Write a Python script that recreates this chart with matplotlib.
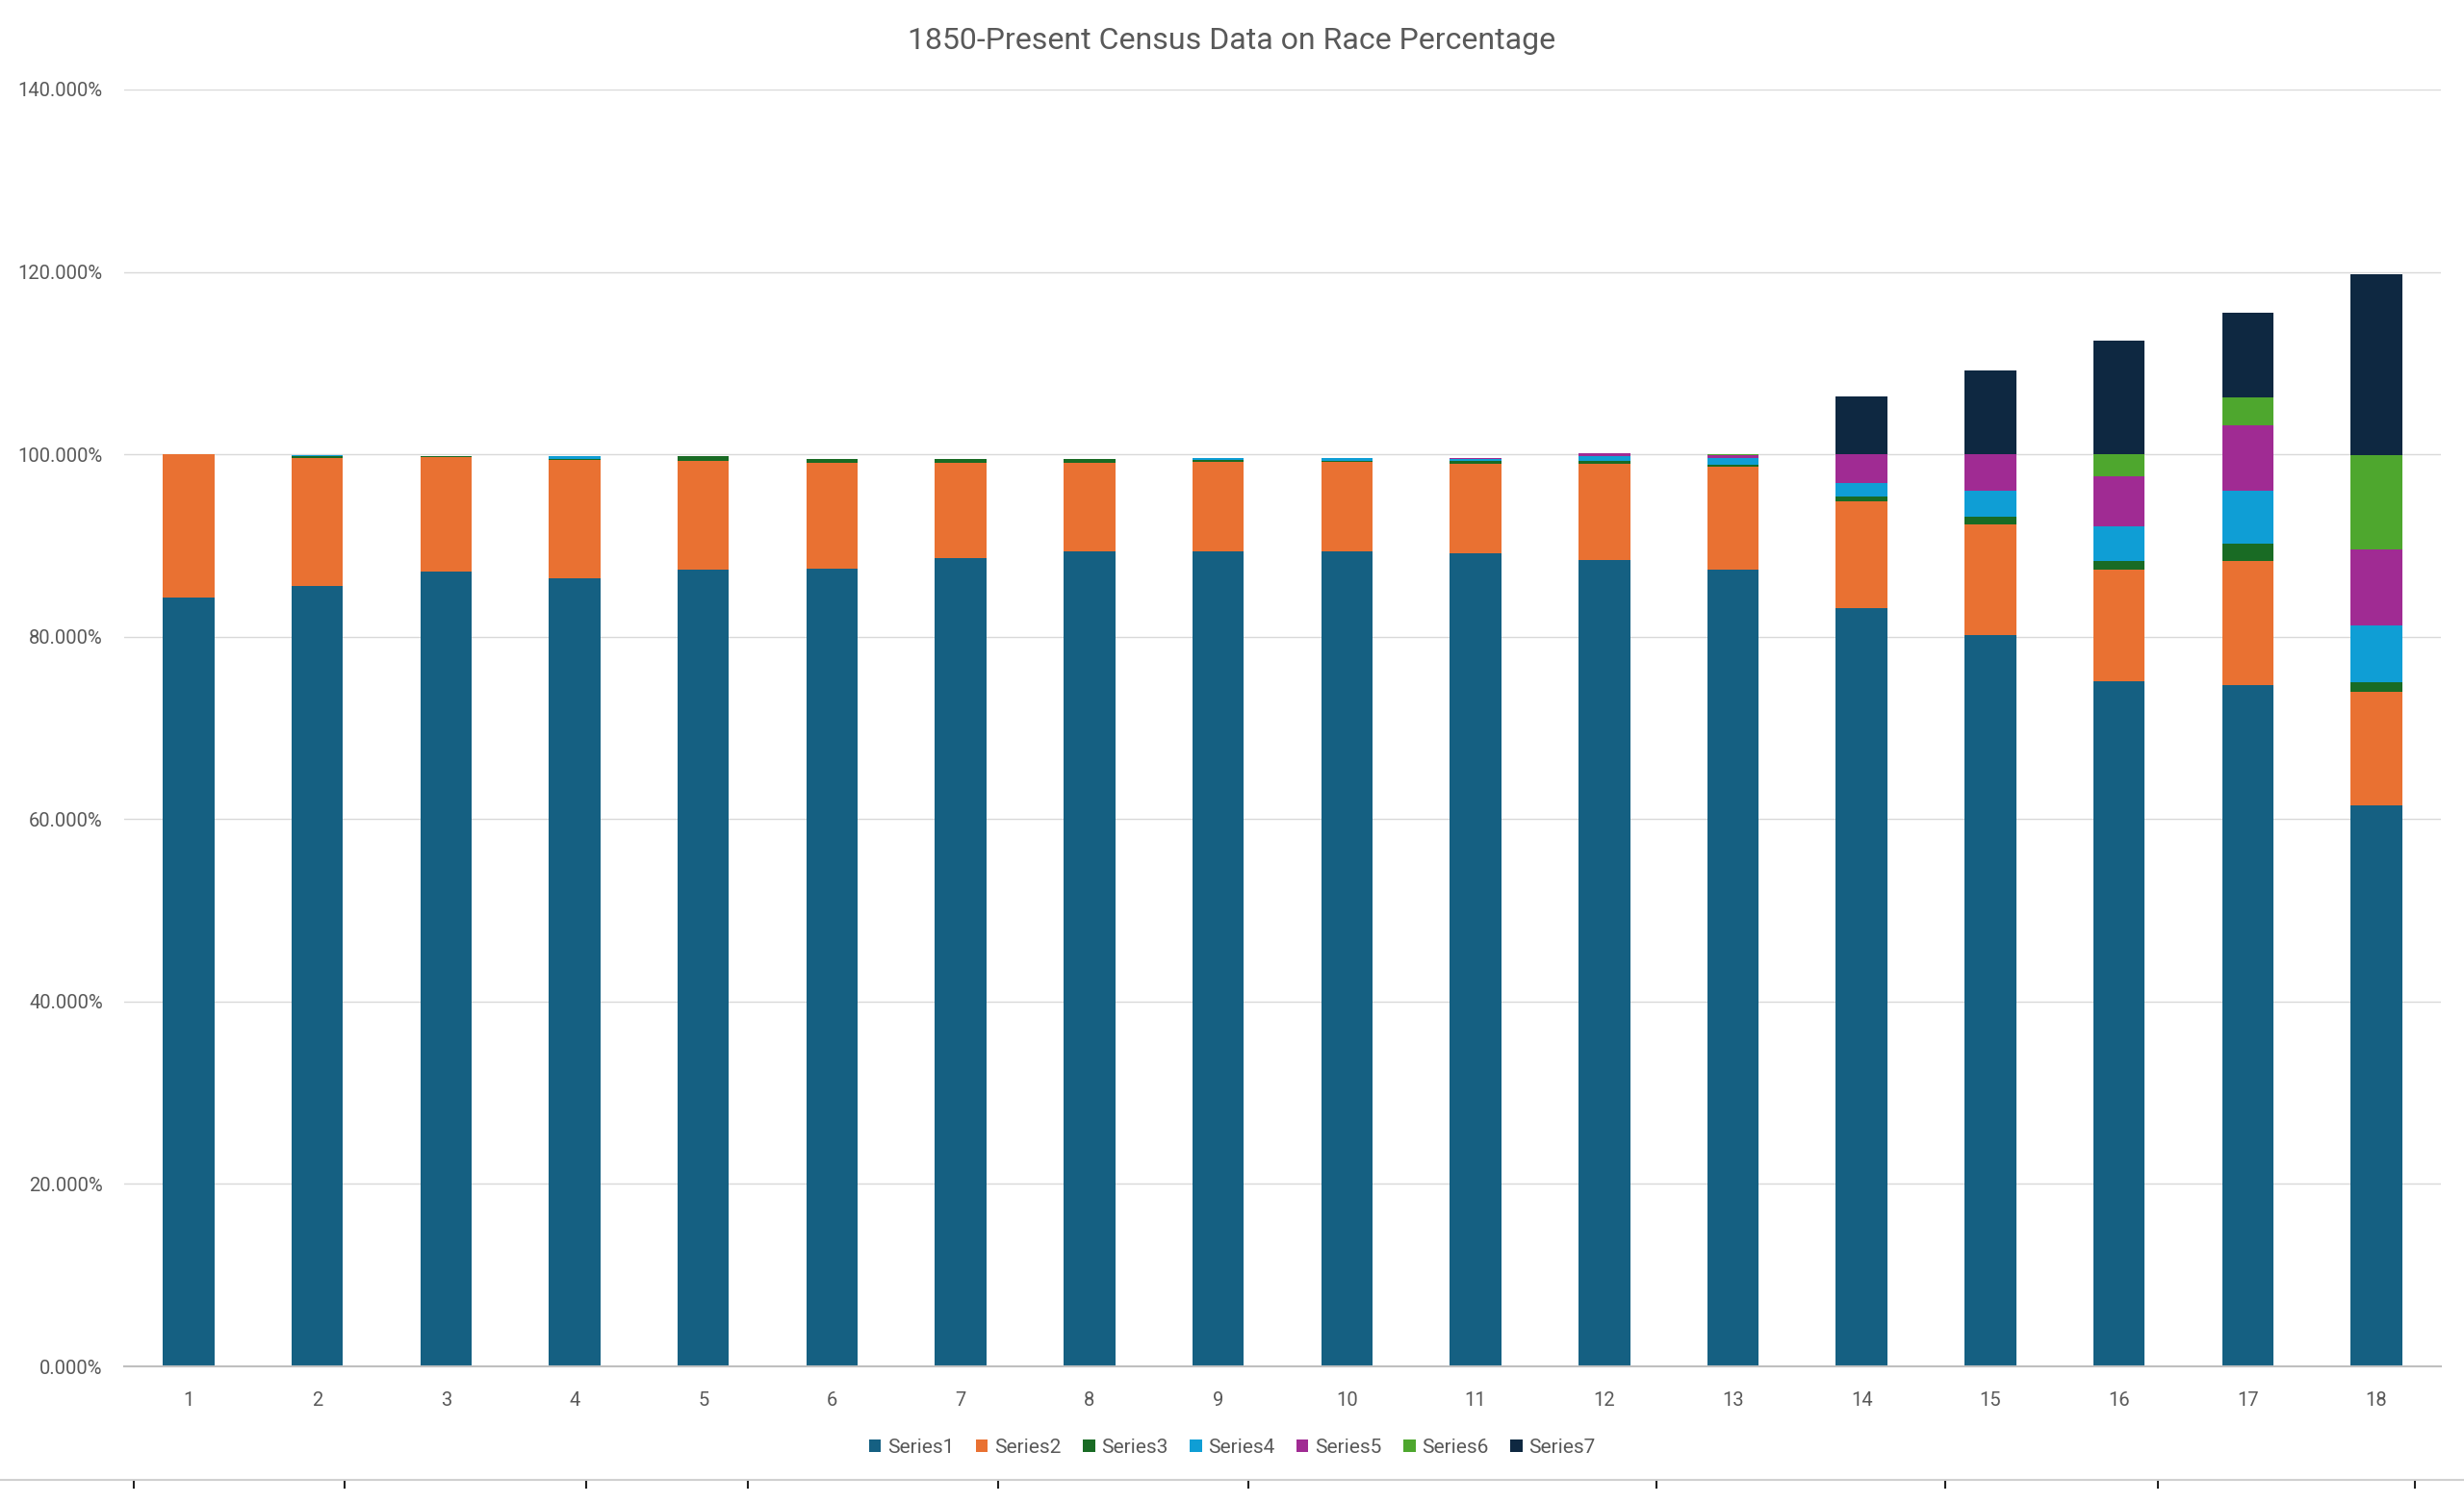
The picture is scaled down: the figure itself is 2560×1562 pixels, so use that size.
import numpy as np
import matplotlib
matplotlib.use("Agg")
import matplotlib.pyplot as plt
from matplotlib.ticker import PercentFormatter, MultipleLocator
from matplotlib.lines import Line2D

plt.rcParams['font.family'] = ['Roboto', 'DejaVu Sans']

# census years as category numbers 1..18
categories = list(range(1, 19))
series_names = ['Series1', 'Series2', 'Series3', 'Series4', 'Series5', 'Series6', 'Series7']

# values in percent
series1 = [84.3, 85.6, 87.1, 86.4, 87.4, 87.5, 88.6, 89.4, 89.4, 89.4, 89.1, 88.4, 87.4, 83.1, 80.2, 75.1, 74.7, 61.5]
series2 = [15.7, 14.0, 12.6, 13.0, 11.9, 11.6, 10.5, 9.7, 9.8, 9.8, 9.9, 10.6, 11.2, 11.7, 12.1, 12.3, 13.6, 12.5]
series3 = [0.0, 0.18, 0.05, 0.05, 0.45, 0.35, 0.35, 0.35, 0.14, 0.10, 0.32, 0.28, 0.28, 0.6, 0.85, 0.9, 1.9, 1.0]
series4 = [0.0, 0.14, 0.10, 0.35, 0.10, 0.07, 0.05, 0.05, 0.25, 0.28, 0.20, 0.56, 0.74, 1.46, 2.85, 3.8, 5.8, 6.2]
series5 = [0, 0, 0, 0, 0, 0, 0, 0, 0, 0, 0.08, 0.25, 0.25, 3.12, 4.06, 5.5, 7.2, 8.4]
series6 = [0, 0, 0, 0, 0, 0, 0, 0, 0, 0, 0, 0, 0.1, 0, 0, 2.4, 3.0, 10.3]
series7 = [0, 0, 0, 0, 0, 0, 0, 0, 0, 0, 0, 0, 0, 6.4, 9.1, 12.5, 9.3, 19.8]

colors = ['#156082', '#E97132', '#196B24', '#0F9ED5', '#A02B93', '#4EA72E', '#0E2841']

fig = plt.figure(figsize=(25.6, 15.62), dpi=100)
ax = fig.add_axes([0.0504, 0.0909, 0.9402, 0.8496])

x = np.array(categories)
bottom = np.zeros(len(categories))
for name, vals, col in zip(series_names,
                           [series1, series2, series3, series4, series5, series6, series7],
                           colors):
    v = np.array(vals) / 100.0
    ax.bar(x, v, width=0.4, bottom=bottom, color=col, label=name, linewidth=0, zorder=3)
    bottom += v

ax.set_xlim(0.5, 18.5)
ax.set_ylim(0, 1.4)
ax.yaxis.set_major_locator(MultipleLocator(0.2))
ax.yaxis.set_major_formatter(PercentFormatter(xmax=1, decimals=3))
ax.set_xticks(x)
ax.set_xticklabels([str(c) for c in categories])

ax.grid(axis='y', color='#D9D9D9', linewidth=1.0, zorder=0)
for s in ['top', 'right', 'left']:
    ax.spines[s].set_visible(False)
ax.spines['bottom'].set_color('#BFBFBF')
ax.spines['bottom'].set_linewidth(1.5)
ax.spines['bottom'].set_zorder(4)
ax.tick_params(axis='both', length=0, labelsize=14.5, colors='#595959')
ax.tick_params(axis='x', pad=19)
ax.tick_params(axis='y', pad=16)

fig.text(0.5, 0.973, '1850-Present Census Data on Race Percentage',
         ha='center', va='center', fontsize=23, color='#595959')

leg = fig.legend(loc='center', bbox_to_anchor=(0.5, 0.037), ncol=7, frameon=False,
                 fontsize=15, handlelength=0.6, handleheight=0.6, handletextpad=0.3,
                 columnspacing=1.1, labelcolor='#595959')

# spreadsheet border seen under the chart
fig.add_artist(Line2D([0, 1], [1 - 1538 / 1562] * 2, color='#D0D0D0', linewidth=1.5))
for px in [139, 358, 609, 777, 1037, 1297, 1721, 2021, 2242, 2509]:
    fig.add_artist(Line2D([px / 2560] * 2, [1 - 1540 / 1562, 1 - 1546 / 1562],
                          color='#222222', linewidth=1.5))

plt.savefig('out.png', dpi=100)
